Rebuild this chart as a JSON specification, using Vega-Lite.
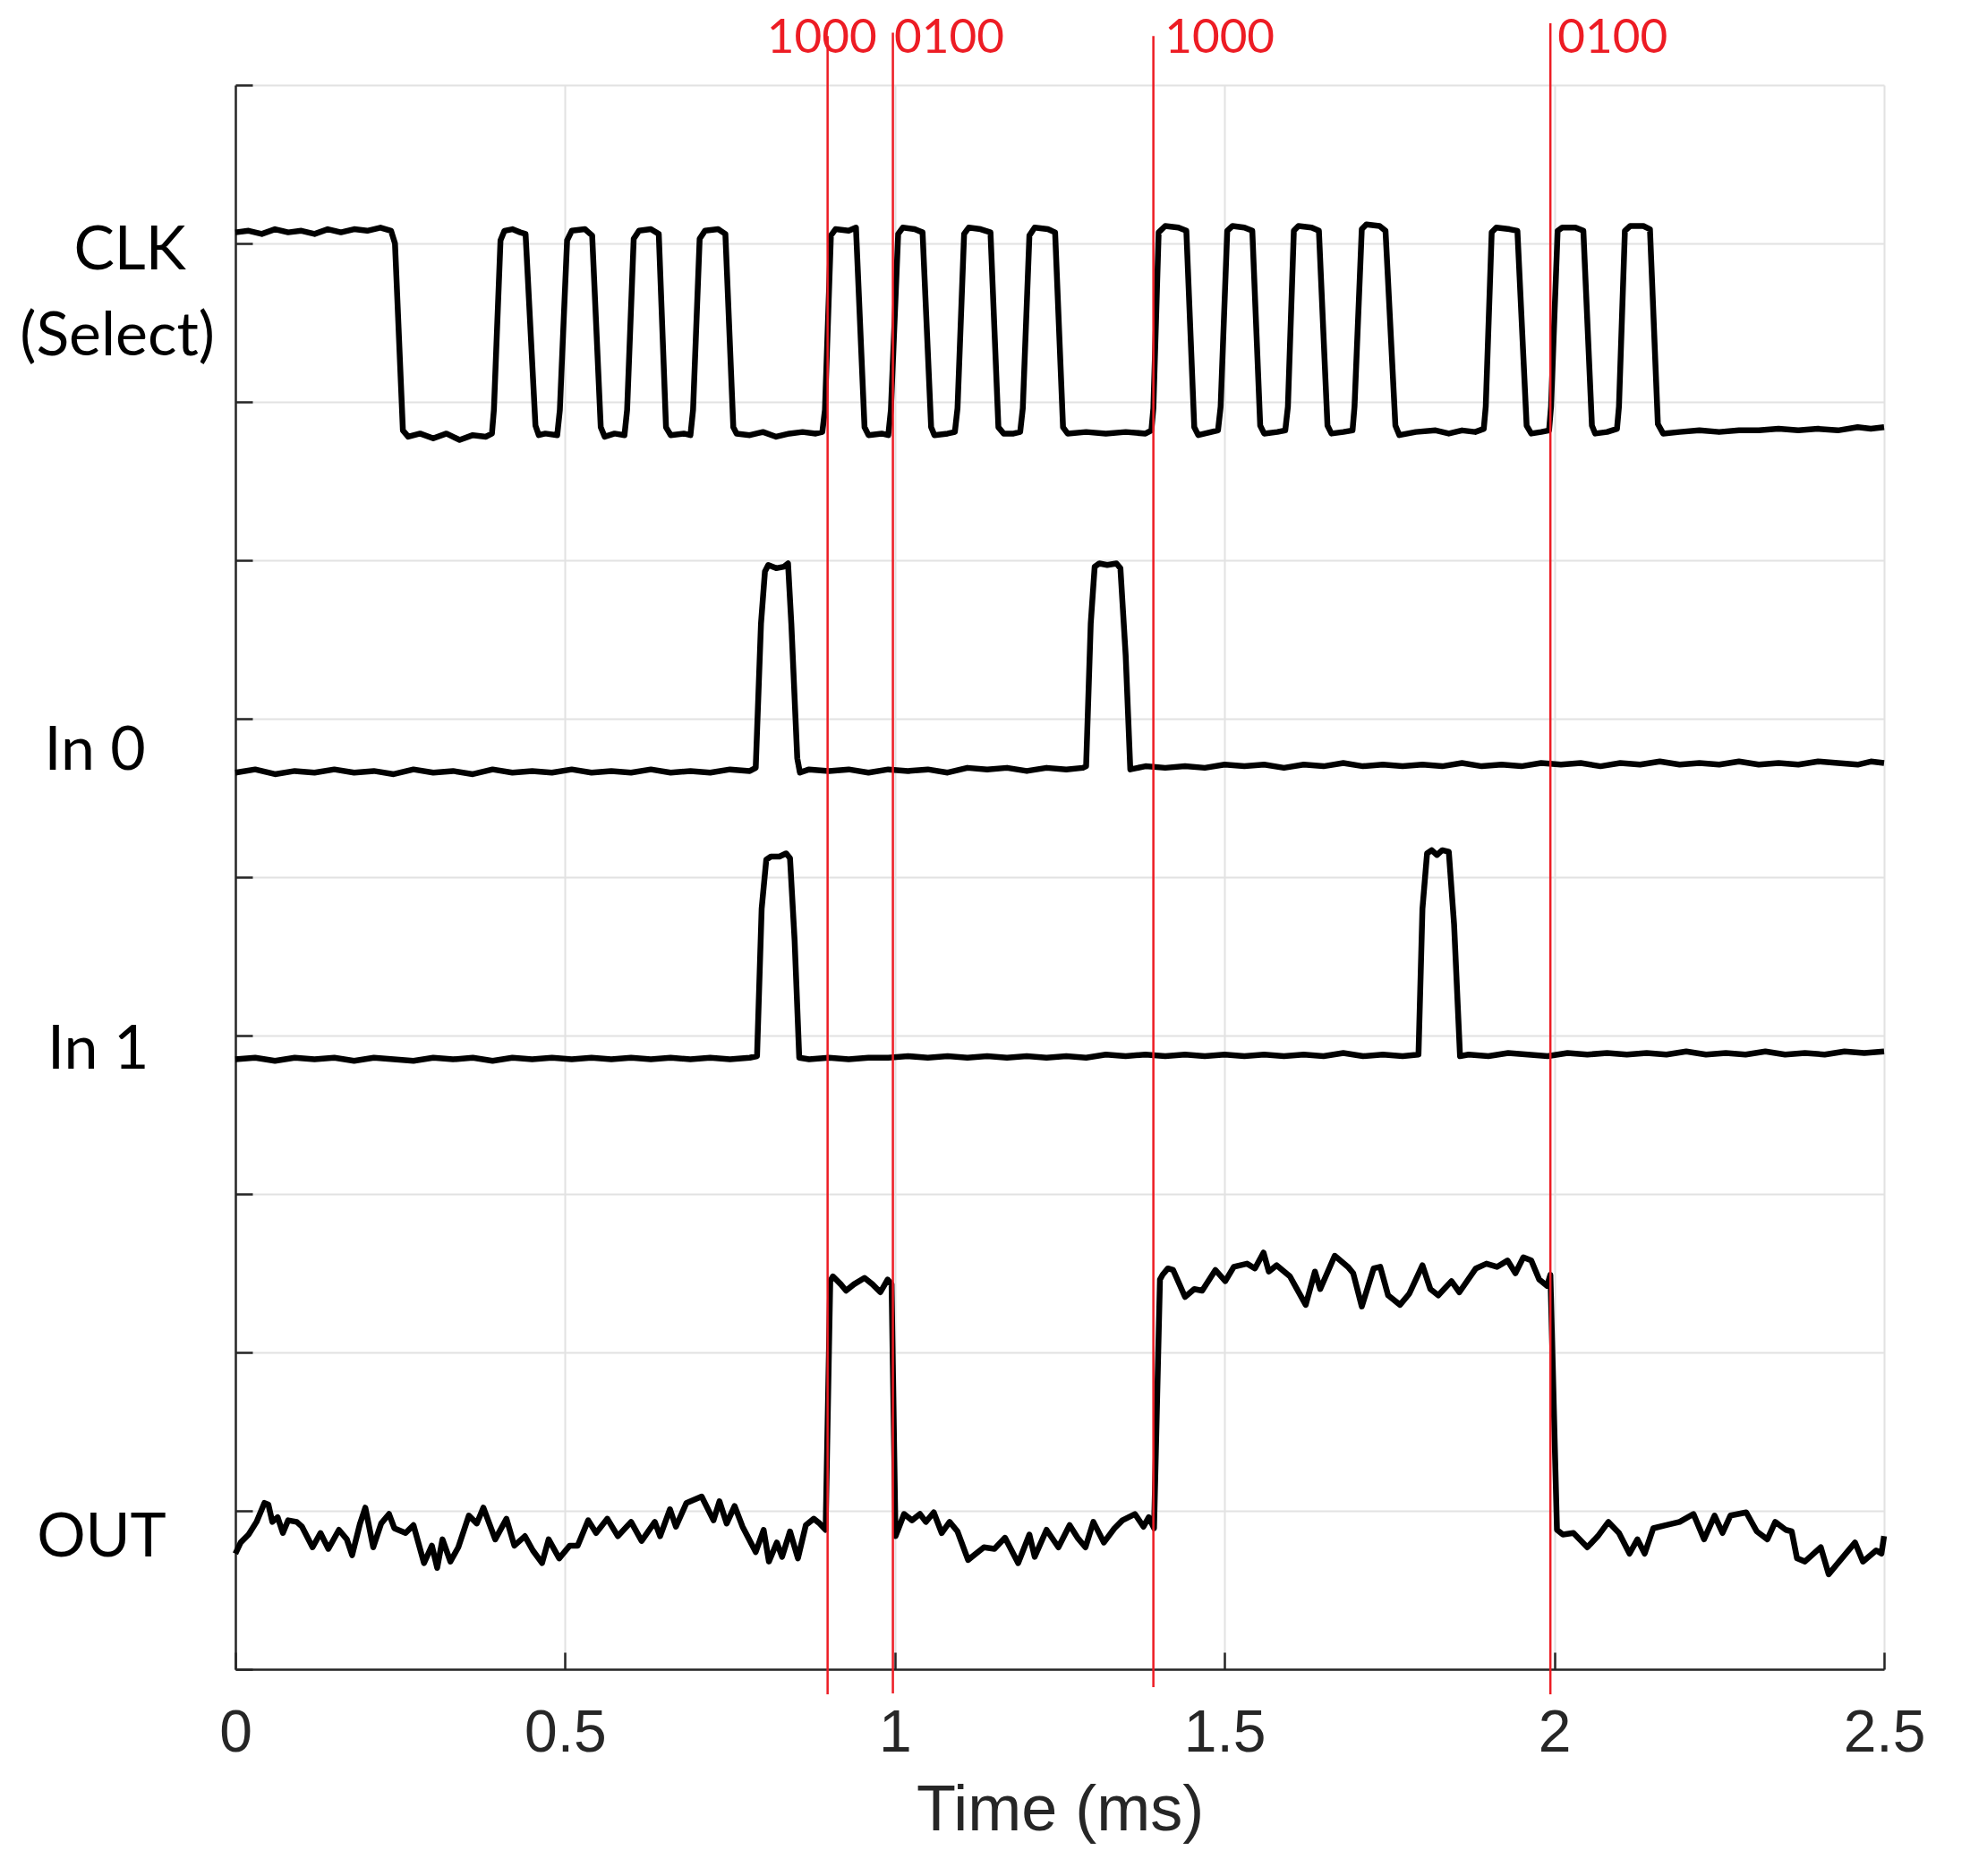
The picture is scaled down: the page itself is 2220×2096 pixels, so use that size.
{
  "$schema": "https://vega.github.io/schema/vega-lite/v6.json",
  "description": "CLK (Select), In 0, In 1 and OUT traces against time, with red markers",
  "autosize": "none",
  "padding": {"left": 263, "top": 95, "right": 115, "bottom": 231},
  "width": 1842,
  "height": 1770,
  "background": "white",
  "config": {
    "view": {"stroke": null},
    "axis": {
      "grid": true,
      "gridColor": "#e2e2e2",
      "gridWidth": 2,
      "domainColor": "#262626",
      "domainWidth": 2.5,
      "tickColor": "#262626",
      "tickWidth": 2.5,
      "tickSize": -19,
      "labelFont": "Liberation Sans",
      "labelColor": "#262626",
      "labelFlush": false,
      "titleFont": "Liberation Sans",
      "titleColor": "#262626",
      "titleFontWeight": "normal"
    }
  },
  "datasets": {
    "clk": [
      {"t":0.000,"v":9.07},{"t":0.020,"v":9.08},{"t":0.040,"v":9.06},{"t":0.060,"v":9.09},{"t":0.080,"v":9.07},
      {"t":0.100,"v":9.08},{"t":0.120,"v":9.06},{"t":0.140,"v":9.09},{"t":0.160,"v":9.07},{"t":0.180,"v":9.09},
      {"t":0.200,"v":9.08},{"t":0.220,"v":9.10},{"t":0.236,"v":9.08},{"t":0.242,"v":9.00},{"t":0.254,"v":7.82},
      {"t":0.262,"v":7.78},{"t":0.280,"v":7.80},{"t":0.300,"v":7.77},{"t":0.320,"v":7.80},{"t":0.340,"v":7.76},
      {"t":0.360,"v":7.79},{"t":0.380,"v":7.78},{"t":0.389,"v":7.80},{"t":0.392,"v":7.95},{"t":0.402,"v":9.02},
      {"t":0.408,"v":9.08},{"t":0.420,"v":9.09},{"t":0.432,"v":9.07},{"t":0.440,"v":9.06},{"t":0.455,"v":7.85},
      {"t":0.460,"v":7.79},{"t":0.470,"v":7.80},{"t":0.488,"v":7.79},{"t":0.492,"v":7.95},{"t":0.503,"v":9.02},
      {"t":0.510,"v":9.08},{"t":0.530,"v":9.09},{"t":0.541,"v":9.05},{"t":0.554,"v":7.84},{"t":0.560,"v":7.78},
      {"t":0.575,"v":7.80},{"t":0.590,"v":7.79},{"t":0.594,"v":7.95},{"t":0.604,"v":9.03},{"t":0.612,"v":9.08},
      {"t":0.630,"v":9.09},{"t":0.642,"v":9.06},{"t":0.653,"v":7.84},{"t":0.660,"v":7.79},{"t":0.680,"v":7.80},
      {"t":0.690,"v":7.79},{"t":0.694,"v":7.95},{"t":0.704,"v":9.03},{"t":0.712,"v":9.08},{"t":0.732,"v":9.09},
      {"t":0.743,"v":9.06},{"t":0.755,"v":7.84},{"t":0.760,"v":7.80},{"t":0.780,"v":7.79},{"t":0.800,"v":7.81},
      {"t":0.820,"v":7.78},{"t":0.840,"v":7.80},{"t":0.860,"v":7.81},{"t":0.880,"v":7.80},{"t":0.890,"v":7.81},
      {"t":0.894,"v":7.95},{"t":0.903,"v":9.05},{"t":0.910,"v":9.09},{"t":0.930,"v":9.08},{"t":0.941,"v":9.10},
      {"t":0.954,"v":7.84},{"t":0.960,"v":7.79},{"t":0.980,"v":7.80},{"t":0.990,"v":7.79},{"t":0.994,"v":7.95},
      {"t":1.005,"v":9.06},{"t":1.012,"v":9.10},{"t":1.030,"v":9.09},{"t":1.042,"v":9.07},{"t":1.055,"v":7.84},
      {"t":1.060,"v":7.79},{"t":1.080,"v":7.80},{"t":1.091,"v":7.81},{"t":1.095,"v":7.96},{"t":1.105,"v":9.06},
      {"t":1.112,"v":9.10},{"t":1.130,"v":9.09},{"t":1.145,"v":9.07},{"t":1.157,"v":7.84},{"t":1.165,"v":7.80},
      {"t":1.180,"v":7.80},{"t":1.190,"v":7.81},{"t":1.194,"v":7.96},{"t":1.204,"v":9.05},{"t":1.212,"v":9.10},
      {"t":1.232,"v":9.09},{"t":1.243,"v":9.07},{"t":1.255,"v":7.84},{"t":1.262,"v":7.80},{"t":1.290,"v":7.81},
      {"t":1.320,"v":7.80},{"t":1.350,"v":7.81},{"t":1.380,"v":7.80},{"t":1.389,"v":7.82},{"t":1.392,"v":7.96},
      {"t":1.400,"v":9.07},{"t":1.410,"v":9.11},{"t":1.430,"v":9.10},{"t":1.442,"v":9.08},{"t":1.454,"v":7.84},
      {"t":1.460,"v":7.79},{"t":1.480,"v":7.81},{"t":1.490,"v":7.82},{"t":1.494,"v":7.97},{"t":1.504,"v":9.08},
      {"t":1.512,"v":9.11},{"t":1.530,"v":9.10},{"t":1.542,"v":9.08},{"t":1.554,"v":7.85},{"t":1.560,"v":7.80},
      {"t":1.580,"v":7.81},{"t":1.592,"v":7.82},{"t":1.596,"v":7.97},{"t":1.605,"v":9.08},{"t":1.612,"v":9.11},
      {"t":1.632,"v":9.10},{"t":1.643,"v":9.08},{"t":1.656,"v":7.85},{"t":1.662,"v":7.80},{"t":1.680,"v":7.81},
      {"t":1.694,"v":7.82},{"t":1.697,"v":7.97},{"t":1.708,"v":9.09},{"t":1.715,"v":9.12},{"t":1.735,"v":9.11},
      {"t":1.744,"v":9.08},{"t":1.759,"v":7.85},{"t":1.765,"v":7.79},{"t":1.790,"v":7.81},{"t":1.820,"v":7.82},
      {"t":1.840,"v":7.80},{"t":1.860,"v":7.82},{"t":1.880,"v":7.81},{"t":1.893,"v":7.83},{"t":1.896,"v":7.97},
      {"t":1.905,"v":9.07},{"t":1.912,"v":9.10},{"t":1.932,"v":9.09},{"t":1.944,"v":9.08},{"t":1.958,"v":7.85},
      {"t":1.965,"v":7.80},{"t":1.980,"v":7.81},{"t":1.992,"v":7.82},{"t":1.995,"v":7.97},{"t":2.005,"v":9.08},
      {"t":2.012,"v":9.10},{"t":2.032,"v":9.10},{"t":2.044,"v":9.08},{"t":2.057,"v":7.85},{"t":2.062,"v":7.80},
      {"t":2.080,"v":7.81},{"t":2.095,"v":7.83},{"t":2.098,"v":7.97},{"t":2.107,"v":9.08},{"t":2.115,"v":9.11},
      {"t":2.135,"v":9.11},{"t":2.145,"v":9.09},{"t":2.157,"v":7.86},{"t":2.165,"v":7.80},{"t":2.190,"v":7.81},
      {"t":2.220,"v":7.82},{"t":2.250,"v":7.81},{"t":2.280,"v":7.82},{"t":2.310,"v":7.82},{"t":2.340,"v":7.83},
      {"t":2.370,"v":7.82},{"t":2.400,"v":7.83},{"t":2.430,"v":7.82},{"t":2.460,"v":7.84},{"t":2.480,"v":7.83},
      {"t":2.500,"v":7.84}
    ],
    "in0": [
      {"t":0.000,"v":5.66},{"t":0.030,"v":5.68},{"t":0.060,"v":5.65},{"t":0.090,"v":5.67},{"t":0.120,"v":5.66},
      {"t":0.150,"v":5.68},{"t":0.180,"v":5.66},{"t":0.210,"v":5.67},{"t":0.240,"v":5.65},{"t":0.270,"v":5.68},
      {"t":0.300,"v":5.66},{"t":0.330,"v":5.67},{"t":0.360,"v":5.65},{"t":0.390,"v":5.68},{"t":0.420,"v":5.66},
      {"t":0.450,"v":5.67},{"t":0.480,"v":5.66},{"t":0.510,"v":5.68},{"t":0.540,"v":5.66},{"t":0.570,"v":5.67},
      {"t":0.600,"v":5.66},{"t":0.630,"v":5.68},{"t":0.660,"v":5.66},{"t":0.690,"v":5.67},{"t":0.720,"v":5.66},
      {"t":0.750,"v":5.68},{"t":0.780,"v":5.67},{"t":0.789,"v":5.69},{"t":0.797,"v":6.60},{"t":0.803,"v":6.93},
      {"t":0.808,"v":6.97},{"t":0.820,"v":6.95},{"t":0.832,"v":6.96},{"t":0.838,"v":6.98},{"t":0.843,"v":6.60},
      {"t":0.852,"v":5.75},{"t":0.856,"v":5.66},{"t":0.870,"v":5.68},{"t":0.900,"v":5.67},{"t":0.930,"v":5.68},
      {"t":0.960,"v":5.66},{"t":0.990,"v":5.68},{"t":1.020,"v":5.67},{"t":1.050,"v":5.68},{"t":1.080,"v":5.66},
      {"t":1.110,"v":5.69},{"t":1.140,"v":5.68},{"t":1.170,"v":5.69},{"t":1.200,"v":5.67},{"t":1.230,"v":5.69},
      {"t":1.260,"v":5.68},{"t":1.285,"v":5.69},{"t":1.290,"v":5.70},{"t":1.297,"v":6.60},{"t":1.303,"v":6.96},
      {"t":1.310,"v":6.98},{"t":1.322,"v":6.97},{"t":1.336,"v":6.98},{"t":1.342,"v":6.95},{"t":1.350,"v":6.40},
      {"t":1.357,"v":5.68},{"t":1.380,"v":5.70},{"t":1.410,"v":5.69},{"t":1.440,"v":5.70},{"t":1.470,"v":5.69},
      {"t":1.500,"v":5.71},{"t":1.530,"v":5.70},{"t":1.560,"v":5.71},{"t":1.590,"v":5.69},{"t":1.620,"v":5.71},
      {"t":1.650,"v":5.70},{"t":1.680,"v":5.72},{"t":1.710,"v":5.70},{"t":1.740,"v":5.71},{"t":1.770,"v":5.70},
      {"t":1.800,"v":5.71},{"t":1.830,"v":5.70},{"t":1.860,"v":5.72},{"t":1.890,"v":5.70},{"t":1.920,"v":5.71},
      {"t":1.950,"v":5.70},{"t":1.980,"v":5.72},{"t":2.010,"v":5.71},{"t":2.040,"v":5.72},{"t":2.070,"v":5.70},
      {"t":2.100,"v":5.72},{"t":2.130,"v":5.71},{"t":2.160,"v":5.73},{"t":2.190,"v":5.71},{"t":2.220,"v":5.72},
      {"t":2.250,"v":5.71},{"t":2.280,"v":5.73},{"t":2.310,"v":5.71},{"t":2.340,"v":5.72},{"t":2.370,"v":5.71},
      {"t":2.400,"v":5.73},{"t":2.430,"v":5.72},{"t":2.460,"v":5.71},{"t":2.480,"v":5.73},{"t":2.500,"v":5.72}
    ],
    "in1": [
      {"t":0.000,"v":3.85},{"t":0.030,"v":3.86},{"t":0.060,"v":3.84},{"t":0.090,"v":3.86},{"t":0.120,"v":3.85},
      {"t":0.150,"v":3.86},{"t":0.180,"v":3.84},{"t":0.210,"v":3.86},{"t":0.240,"v":3.85},{"t":0.270,"v":3.84},
      {"t":0.300,"v":3.86},{"t":0.330,"v":3.85},{"t":0.360,"v":3.86},{"t":0.390,"v":3.84},{"t":0.420,"v":3.86},
      {"t":0.450,"v":3.85},{"t":0.480,"v":3.86},{"t":0.510,"v":3.85},{"t":0.540,"v":3.86},{"t":0.570,"v":3.85},
      {"t":0.600,"v":3.86},{"t":0.630,"v":3.85},{"t":0.660,"v":3.86},{"t":0.690,"v":3.85},{"t":0.720,"v":3.86},
      {"t":0.750,"v":3.85},{"t":0.780,"v":3.86},{"t":0.791,"v":3.87},{"t":0.798,"v":4.80},{"t":0.805,"v":5.11},
      {"t":0.812,"v":5.13},{"t":0.825,"v":5.13},{"t":0.835,"v":5.15},{"t":0.841,"v":5.12},{"t":0.848,"v":4.60},
      {"t":0.855,"v":3.86},{"t":0.870,"v":3.85},{"t":0.900,"v":3.86},{"t":0.930,"v":3.85},{"t":0.960,"v":3.86},
      {"t":0.990,"v":3.86},{"t":1.020,"v":3.87},{"t":1.050,"v":3.86},{"t":1.080,"v":3.87},{"t":1.110,"v":3.86},
      {"t":1.140,"v":3.87},{"t":1.170,"v":3.86},{"t":1.200,"v":3.87},{"t":1.230,"v":3.86},{"t":1.260,"v":3.87},
      {"t":1.290,"v":3.86},{"t":1.320,"v":3.88},{"t":1.350,"v":3.87},{"t":1.380,"v":3.88},{"t":1.410,"v":3.87},
      {"t":1.440,"v":3.88},{"t":1.470,"v":3.87},{"t":1.500,"v":3.88},{"t":1.530,"v":3.87},{"t":1.560,"v":3.88},
      {"t":1.590,"v":3.87},{"t":1.620,"v":3.88},{"t":1.650,"v":3.87},{"t":1.680,"v":3.89},{"t":1.710,"v":3.87},
      {"t":1.740,"v":3.88},{"t":1.770,"v":3.87},{"t":1.794,"v":3.88},{"t":1.800,"v":4.80},{"t":1.807,"v":5.15},
      {"t":1.814,"v":5.17},{"t":1.822,"v":5.14},{"t":1.830,"v":5.17},{"t":1.840,"v":5.16},{"t":1.848,"v":4.70},
      {"t":1.857,"v":3.87},{"t":1.870,"v":3.88},{"t":1.900,"v":3.87},{"t":1.930,"v":3.89},{"t":1.960,"v":3.88},
      {"t":1.990,"v":3.87},{"t":2.020,"v":3.89},{"t":2.050,"v":3.88},{"t":2.080,"v":3.89},{"t":2.110,"v":3.88},
      {"t":2.140,"v":3.89},{"t":2.170,"v":3.88},{"t":2.200,"v":3.90},{"t":2.230,"v":3.88},{"t":2.260,"v":3.89},
      {"t":2.290,"v":3.88},{"t":2.320,"v":3.90},{"t":2.350,"v":3.88},{"t":2.380,"v":3.89},{"t":2.410,"v":3.88},
      {"t":2.440,"v":3.90},{"t":2.470,"v":3.89},{"t":2.500,"v":3.90}
    ],
    "out": [
      {"t":0.000,"v":0.73},{"t":0.008,"v":0.80},{"t":0.020,"v":0.85},{"t":0.032,"v":0.93},{"t":0.044,"v":1.05},
      {"t":0.050,"v":1.04},{"t":0.056,"v":0.93},{"t":0.064,"v":0.96},{"t":0.072,"v":0.86},{"t":0.080,"v":0.94},
      {"t":0.093,"v":0.93},{"t":0.101,"v":0.90},{"t":0.117,"v":0.77},{"t":0.129,"v":0.86},{"t":0.141,"v":0.76},
      {"t":0.157,"v":0.88},{"t":0.169,"v":0.82},{"t":0.177,"v":0.72},{"t":0.189,"v":0.92},{"t":0.197,"v":1.02},
      {"t":0.209,"v":0.77},{"t":0.221,"v":0.92},{"t":0.233,"v":0.98},{"t":0.241,"v":0.89},{"t":0.258,"v":0.86},
      {"t":0.270,"v":0.91},{"t":0.286,"v":0.67},{"t":0.298,"v":0.78},{"t":0.306,"v":0.64},{"t":0.314,"v":0.82},
      {"t":0.326,"v":0.68},{"t":0.338,"v":0.77},{"t":0.354,"v":0.97},{"t":0.366,"v":0.92},{"t":0.376,"v":1.02},
      {"t":0.394,"v":0.82},{"t":0.411,"v":0.95},{"t":0.423,"v":0.78},{"t":0.439,"v":0.84},{"t":0.451,"v":0.75},
      {"t":0.465,"v":0.67},{"t":0.475,"v":0.82},{"t":0.491,"v":0.70},{"t":0.507,"v":0.78},{"t":0.519,"v":0.78},
      {"t":0.535,"v":0.94},{"t":0.547,"v":0.86},{"t":0.564,"v":0.95},{"t":0.580,"v":0.84},{"t":0.600,"v":0.93},
      {"t":0.616,"v":0.81},{"t":0.636,"v":0.93},{"t":0.644,"v":0.84},{"t":0.659,"v":1.01},{"t":0.668,"v":0.90},
      {"t":0.684,"v":1.05},{"t":0.707,"v":1.09},{"t":0.725,"v":0.94},{"t":0.734,"v":1.06},{"t":0.745,"v":0.92},
      {"t":0.757,"v":1.03},{"t":0.769,"v":0.90},{"t":0.789,"v":0.74},{"t":0.801,"v":0.88},{"t":0.809,"v":0.68},
      {"t":0.821,"v":0.80},{"t":0.829,"v":0.71},{"t":0.841,"v":0.87},{"t":0.853,"v":0.70},{"t":0.865,"v":0.91},
      {"t":0.877,"v":0.95},{"t":0.886,"v":0.92},{"t":0.895,"v":0.88},{"t":0.902,"v":2.45},{"t":0.906,"v":2.48},
      {"t":0.918,"v":2.43},{"t":0.926,"v":2.39},{"t":0.938,"v":2.43},{"t":0.954,"v":2.47},{"t":0.966,"v":2.43},
      {"t":0.978,"v":2.38},{"t":0.989,"v":2.46},{"t":0.995,"v":2.43},{"t":1.001,"v":0.84},{"t":1.014,"v":0.98},
      {"t":1.026,"v":0.94},{"t":1.038,"v":0.98},{"t":1.047,"v":0.93},{"t":1.059,"v":0.99},{"t":1.071,"v":0.86},
      {"t":1.083,"v":0.93},{"t":1.095,"v":0.87},{"t":1.111,"v":0.69},{"t":1.135,"v":0.77},{"t":1.151,"v":0.76},
      {"t":1.167,"v":0.83},{"t":1.187,"v":0.67},{"t":1.204,"v":0.85},{"t":1.212,"v":0.71},{"t":1.230,"v":0.88},
      {"t":1.248,"v":0.77},{"t":1.265,"v":0.91},{"t":1.277,"v":0.83},{"t":1.289,"v":0.77},{"t":1.301,"v":0.93},
      {"t":1.317,"v":0.80},{"t":1.333,"v":0.89},{"t":1.345,"v":0.94},{"t":1.364,"v":0.98},{"t":1.377,"v":0.90},
      {"t":1.385,"v":0.96},{"t":1.393,"v":0.89},{"t":1.402,"v":2.46},{"t":1.406,"v":2.49},{"t":1.414,"v":2.53},
      {"t":1.422,"v":2.52},{"t":1.440,"v":2.35},{"t":1.454,"v":2.40},{"t":1.466,"v":2.39},{"t":1.486,"v":2.52},
      {"t":1.501,"v":2.45},{"t":1.514,"v":2.54},{"t":1.534,"v":2.56},{"t":1.546,"v":2.53},{"t":1.559,"v":2.63},
      {"t":1.567,"v":2.51},{"t":1.579,"v":2.55},{"t":1.599,"v":2.48},{"t":1.623,"v":2.30},{"t":1.637,"v":2.51},
      {"t":1.645,"v":2.40},{"t":1.667,"v":2.61},{"t":1.687,"v":2.54},{"t":1.695,"v":2.50},{"t":1.708,"v":2.29},
      {"t":1.726,"v":2.53},{"t":1.736,"v":2.54},{"t":1.748,"v":2.36},{"t":1.766,"v":2.30},{"t":1.780,"v":2.37},
      {"t":1.800,"v":2.55},{"t":1.812,"v":2.40},{"t":1.824,"v":2.36},{"t":1.844,"v":2.45},{"t":1.856,"v":2.38},
      {"t":1.881,"v":2.53},{"t":1.897,"v":2.56},{"t":1.913,"v":2.54},{"t":1.929,"v":2.58},{"t":1.941,"v":2.50},
      {"t":1.953,"v":2.60},{"t":1.965,"v":2.58},{"t":1.977,"v":2.46},{"t":1.989,"v":2.42},{"t":1.994,"v":2.49},
      {"t":2.004,"v":0.88},{"t":2.013,"v":0.85},{"t":2.029,"v":0.86},{"t":2.050,"v":0.77},{"t":2.066,"v":0.84},
      {"t":2.082,"v":0.93},{"t":2.098,"v":0.86},{"t":2.114,"v":0.73},{"t":2.126,"v":0.82},{"t":2.137,"v":0.73},
      {"t":2.150,"v":0.89},{"t":2.170,"v":0.91},{"t":2.190,"v":0.93},{"t":2.211,"v":0.98},{"t":2.227,"v":0.82},
      {"t":2.243,"v":0.97},{"t":2.255,"v":0.86},{"t":2.267,"v":0.97},{"t":2.291,"v":0.99},{"t":2.307,"v":0.87},
      {"t":2.323,"v":0.82},{"t":2.335,"v":0.93},{"t":2.351,"v":0.88},{"t":2.360,"v":0.87},{"t":2.368,"v":0.70},
      {"t":2.380,"v":0.68},{"t":2.404,"v":0.77},{"t":2.416,"v":0.60},{"t":2.432,"v":0.68},{"t":2.456,"v":0.80},
      {"t":2.468,"v":0.68},{"t":2.488,"v":0.75},{"t":2.496,"v":0.73},{"t":2.500,"v":0.84}
    ],
    "markers": [
      {"t":0.898,"lo":-0.158,"hi":10.31},
      {"t":0.997,"lo":-0.153,"hi":10.33},
      {"t":1.392,"lo":-0.113,"hi":10.31},
      {"t":1.994,"lo":-0.158,"hi":10.39}
    ],
    "codes": [
      {"label":"1000","t":0.806,"v":10.203},
      {"label":"0100","t":0.999,"v":10.203},
      {"label":"1000","t":1.409,"v":10.203},
      {"label":"0100","t":2.005,"v":10.203}
    ],
    "names": [
      {"label":"CLK","t":-0.160,"v":8.836},
      {"label":"(Select)","t":-0.179,"v":8.294},
      {"label":"In 0","t":-0.213,"v":5.678},
      {"label":"In 1","t":-0.208,"v":3.79},
      {"label":"OUT","t":-0.203,"v":0.712}
    ]
  },
  "layer": [
    {
      "data": {"name": "clk"},
      "mark": {"type": "line", "color": "black", "strokeWidth": 6.5, "strokeJoin": "round"},
      "encoding": {
        "x": {
          "field": "t", "type": "quantitative",
          "scale": {"domain": [0, 2.5], "nice": false, "zero": false},
          "axis": {
            "values": [0, 0.5, 1, 1.5, 2, 2.5],
            "format": "~g",
            "labelFontSize": 66,
            "labelPadding": 58,
            "title": "Time (ms)",
            "titleFontSize": 72,
            "titlePadding": 18
          }
        },
        "y": {
          "field": "v", "type": "quantitative",
          "scale": {"domain": [0, 10], "nice": false, "zero": false},
          "axis": {
            "values": [0, 1, 2, 3, 4, 5, 6, 7, 8, 9, 10],
            "labels": false,
            "title": null
          }
        }
      }
    },
    {
      "data": {"name": "in0"},
      "mark": {"type": "line", "color": "black", "strokeWidth": 6.5, "strokeJoin": "round"},
      "encoding": {
        "x": {"field": "t", "type": "quantitative"},
        "y": {"field": "v", "type": "quantitative"}
      }
    },
    {
      "data": {"name": "in1"},
      "mark": {"type": "line", "color": "black", "strokeWidth": 6.5, "strokeJoin": "round"},
      "encoding": {
        "x": {"field": "t", "type": "quantitative"},
        "y": {"field": "v", "type": "quantitative"}
      }
    },
    {
      "data": {"name": "out"},
      "mark": {"type": "line", "color": "black", "strokeWidth": 6.5, "strokeJoin": "round"},
      "encoding": {
        "x": {"field": "t", "type": "quantitative"},
        "y": {"field": "v", "type": "quantitative"}
      }
    },
    {
      "data": {"name": "markers"},
      "mark": {"type": "rule", "color": "#ed1c24", "strokeWidth": 2.5},
      "encoding": {
        "x": {"field": "t", "type": "quantitative"},
        "y": {"field": "lo", "type": "quantitative"},
        "y2": {"field": "hi"}
      }
    },
    {
      "data": {"name": "codes"},
      "mark": {"type": "text", "color": "#ed1c24", "font": "Lato", "fontSize": 53, "align": "left", "baseline": "alphabetic"},
      "encoding": {
        "x": {"field": "t", "type": "quantitative"},
        "y": {"field": "v", "type": "quantitative"},
        "text": {"field": "label"}
      }
    },
    {
      "data": {"name": "names"},
      "mark": {"type": "text", "color": "black", "font": "Lato", "fontSize": 68, "align": "center", "baseline": "alphabetic"},
      "encoding": {
        "x": {"field": "t", "type": "quantitative"},
        "y": {"field": "v", "type": "quantitative"},
        "text": {"field": "label"}
      }
    }
  ]
}
